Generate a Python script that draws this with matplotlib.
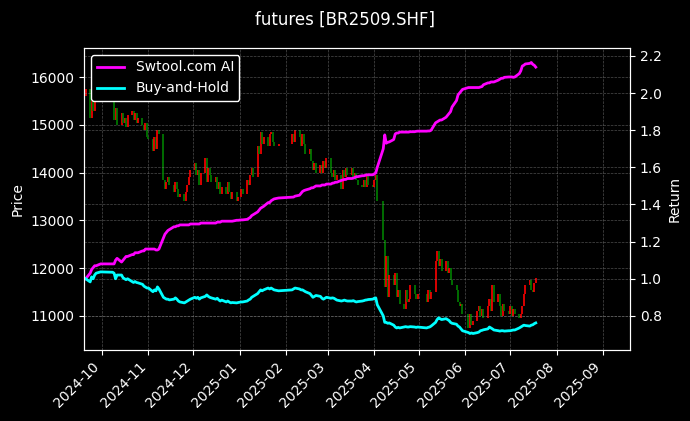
import matplotlib
matplotlib.use("Agg")
import matplotlib.pyplot as plt
import matplotlib.dates as mdates
import numpy as np
import pandas as pd

# trading calendar (SHFE holidays removed)
holidays = pd.to_datetime([
    "2024-10-01", "2024-10-02", "2024-10-03", "2024-10-04", "2024-10-07",
    "2025-01-01", "2025-01-28", "2025-01-29", "2025-01-30", "2025-01-31",
    "2025-02-03", "2025-02-04", "2025-04-04", "2025-05-01", "2025-05-02",
    "2025-05-05", "2025-06-02",
])
dates = pd.bdate_range("2024-09-20", "2025-07-18")
dates = dates[~dates.isin(holidays)]

first_open = 15600
closes = [
    # Sep
    15750, 15150, 15500, 15300, 15600, 15750, 15900,
    # Oct
    15500, 15100, 15350, 15000, 15250, 15050, 15150, 14950, 15200,
    15300, 15100, 15250, 15050, 15150, 15000, 14900, 15050, 14750,
    # Nov
    14700, 14450, 14750, 14500, 14900, 14800, 13850, 13650, 13800, 13900,
    13750, 13600, 13800, 13650, 13500, 13550, 13400, 13600, 13750, 13900, 14050,
    # Dec
    14200, 13950, 14050, 13750, 14000, 14300, 13800, 14100, 13950, 13800,
    13900, 13650, 13800, 13550, 13700, 13550, 13800, 13600, 13450, 13600,
    13400, 13500,
    # Jan
    13650, 13550, 13850, 13750, 13950, 14100, 13900, 14550, 14400, 14850,
    14600, 14750, 14550, 14800, 14850, 14650, 14550, 14600,
    # Feb
    14800, 14650, 14900, 14750, 14550, 14800, 14600, 14400, 14500, 14250,
    14050, 14200, 14000, 14150, 14000, 14250, 14100, 14300,
    # Mar
    14000, 13900, 14050, 13850, 13950, 13650, 14050, 13900, 14100, 13950,
    14100, 13900, 14000, 13850, 13750, 13700, 13850, 13700, 13950, 13750, 13700,
    # Apr
    13850, 13950, 13400, 12600, 11600, 12250, 11400, 11850, 11650, 11900,
    11400, 11550, 11250, 11150, 11550, 11300, 11350, 11650, 11450, 11350, 11450,
    # May
    11300, 11550, 11350, 11500, 12150, 12350, 12050, 12200, 11950, 12150,
    11900, 12000, 11750, 11650, 11550, 11300, 11200, 11250, 11050,
    # Jun
    10750, 11050, 10800, 10900, 11100, 11200, 11000, 11150, 10950, 11200,
    11350, 11100, 11650, 11300, 11450, 11200, 11000, 11250, 11100, 11050,
    # Jul
    11200, 11000, 11150, 11050, 10950, 11050, 11200, 11450, 11650, 11750,
    11550, 11500, 11700, 11800,
]

ai_return = [
    1.00, 1.03, 1.05, 1.06, 1.07, 1.07, 1.08,
    1.08, 1.08, 1.10, 1.11, 1.09, 1.10, 1.11, 1.12, 1.12,
    1.13, 1.13, 1.14, 1.14, 1.14, 1.15, 1.15, 1.16, 1.16,
    1.16, 1.16, 1.16, 1.155, 1.155, 1.16, 1.22, 1.24, 1.25, 1.26,
    1.265, 1.28, 1.28, 1.285, 1.285, 1.29, 1.29, 1.29, 1.29, 1.29, 1.295,
    1.295, 1.295, 1.295, 1.295, 1.30, 1.30, 1.30, 1.30, 1.30, 1.30,
    1.30, 1.305, 1.305, 1.305, 1.31, 1.31, 1.31, 1.31, 1.31, 1.31,
    1.315, 1.315,
    1.317, 1.317, 1.32, 1.325, 1.33, 1.34, 1.345, 1.36, 1.37, 1.38,
    1.385, 1.39, 1.41, 1.41, 1.42, 1.425, 1.43, 1.435,
    1.44, 1.44, 1.445, 1.45, 1.46, 1.47, 1.475, 1.478, 1.485, 1.49,
    1.49, 1.495, 1.50, 1.50, 1.505, 1.505, 1.505, 1.51,
    1.51, 1.515, 1.516, 1.52, 1.52, 1.53, 1.532, 1.535, 1.535, 1.54,
    1.54, 1.542, 1.545, 1.55, 1.55, 1.555, 1.555, 1.557, 1.56, 1.56, 1.56,
    1.565, 1.57, 1.60, 1.70, 1.775, 1.73, 1.735, 1.737, 1.75, 1.78,
    1.785, 1.785, 1.79, 1.79, 1.79, 1.79, 1.79, 1.792, 1.792, 1.794, 1.795,
    1.795, 1.796, 1.796, 1.80, 1.84, 1.845, 1.85, 1.855, 1.855, 1.87,
    1.88, 1.89, 1.90, 1.925, 1.96, 1.99, 2.00, 2.01, 2.02,
    2.03, 2.03, 2.03, 2.03, 2.03, 2.03, 2.033, 2.035, 2.045, 2.055,
    2.055, 2.06, 2.06, 2.06, 2.07, 2.075, 2.08, 2.08, 2.085, 2.087,
    2.087, 2.087, 2.085, 2.087, 2.105, 2.12, 2.146, 2.15, 2.157, 2.16,
    2.165, 2.155, 2.15, 2.14,
]

bh_return = [
    1.00, 0.983, 1.01, 1.00, 1.02, 1.03, 1.037,
    1.035, 1.03, 1.00, 1.02, 1.02, 1.005, 1.00, 0.995, 1.00,
    0.985, 0.98, 0.985, 0.98, 0.978, 0.97, 0.96, 0.955, 0.95,
    0.95, 0.93, 0.94, 0.935, 0.956, 0.945, 0.90, 0.895, 0.89, 0.89,
    0.886, 0.89, 0.897, 0.89, 0.88, 0.875, 0.87, 0.875, 0.88, 0.885, 0.89,
    0.90, 0.895, 0.90, 0.89, 0.897, 0.905, 0.913, 0.905, 0.90, 0.897,
    0.89, 0.895, 0.886, 0.88, 0.885, 0.875, 0.88, 0.875, 0.87, 0.872,
    0.87, 0.872,
    0.875, 0.875, 0.88, 0.886, 0.89, 0.90, 0.905, 0.92, 0.93, 0.94,
    0.935, 0.94, 0.95, 0.945, 0.95, 0.945, 0.94, 0.935,
    0.94, 0.945, 0.95, 0.945, 0.94, 0.94, 0.935, 0.93, 0.92, 0.91,
    0.90, 0.905, 0.91, 0.905, 0.895, 0.89, 0.895, 0.90,
    0.895, 0.897, 0.895, 0.89, 0.885, 0.88, 0.882, 0.885, 0.882, 0.88,
    0.88, 0.882, 0.878, 0.875, 0.877, 0.88, 0.882, 0.885, 0.886, 0.888, 0.89,
    0.895, 0.897, 0.86, 0.80, 0.765, 0.765, 0.76, 0.762, 0.75, 0.74,
    0.735, 0.738, 0.735, 0.74, 0.742, 0.74, 0.74, 0.742, 0.74, 0.738, 0.74,
    0.735, 0.738, 0.74, 0.745, 0.765, 0.78, 0.789, 0.785, 0.78, 0.785,
    0.78, 0.775, 0.765, 0.76, 0.755, 0.745, 0.74, 0.73, 0.72,
    0.71, 0.705, 0.708, 0.705, 0.71, 0.713, 0.72, 0.722, 0.725, 0.73,
    0.74, 0.735, 0.73, 0.724, 0.72, 0.718, 0.72, 0.72, 0.718, 0.72,
    0.72, 0.722, 0.724, 0.724, 0.735, 0.74, 0.745, 0.75, 0.748, 0.745,
    0.75, 0.752, 0.758, 0.762,
]

closes = np.array(closes, dtype=float)
opens = np.concatenate([[first_open], closes[:-1]])
colors = np.where(closes >= opens, "red", "green")

plt.style.use("dark_background")
fig = plt.figure(figsize=(6.9, 4.21), dpi=100)
ax = fig.add_axes([0.122, 0.169, 0.791, 0.717])

ax.vlines(dates, opens, closes, colors=colors, linewidth=1.2)
ax.set_ylim(10290, 16610)
ax.set_ylabel("Price", fontsize=10)
ax.grid(True, color="gray", linestyle="--", linewidth=0.5, alpha=0.6)

ax2 = ax.twinx()
ax2.plot(dates, ai_return, color="magenta", linewidth=2, label="Swtool.com AI")
ax2.plot(dates, bh_return, color="cyan", linewidth=2, label="Buy-and-Hold")
ax2.set_ylim(0.617, 2.243)
ax2.set_ylabel("Return", fontsize=10)
ax2.grid(True, color="gray", linestyle="--", linewidth=0.5, alpha=0.6)

ax.set_xlim(pd.Timestamp("2024-09-19"), pd.Timestamp("2025-09-19"))
ax.xaxis.set_major_locator(mdates.MonthLocator())
ax.xaxis.set_major_formatter(mdates.DateFormatter("%Y-%m"))
plt.setp(ax.get_xticklabels(), rotation=45, ha="right")

leg = ax2.legend(loc="upper left", facecolor="black", edgecolor="white", fontsize=10)
leg.get_frame().set_alpha(1.0)

fig.suptitle("futures [BR2509.SHF]", fontsize=12, y=0.975)
fig.savefig("out.png", dpi=100, facecolor="black")
